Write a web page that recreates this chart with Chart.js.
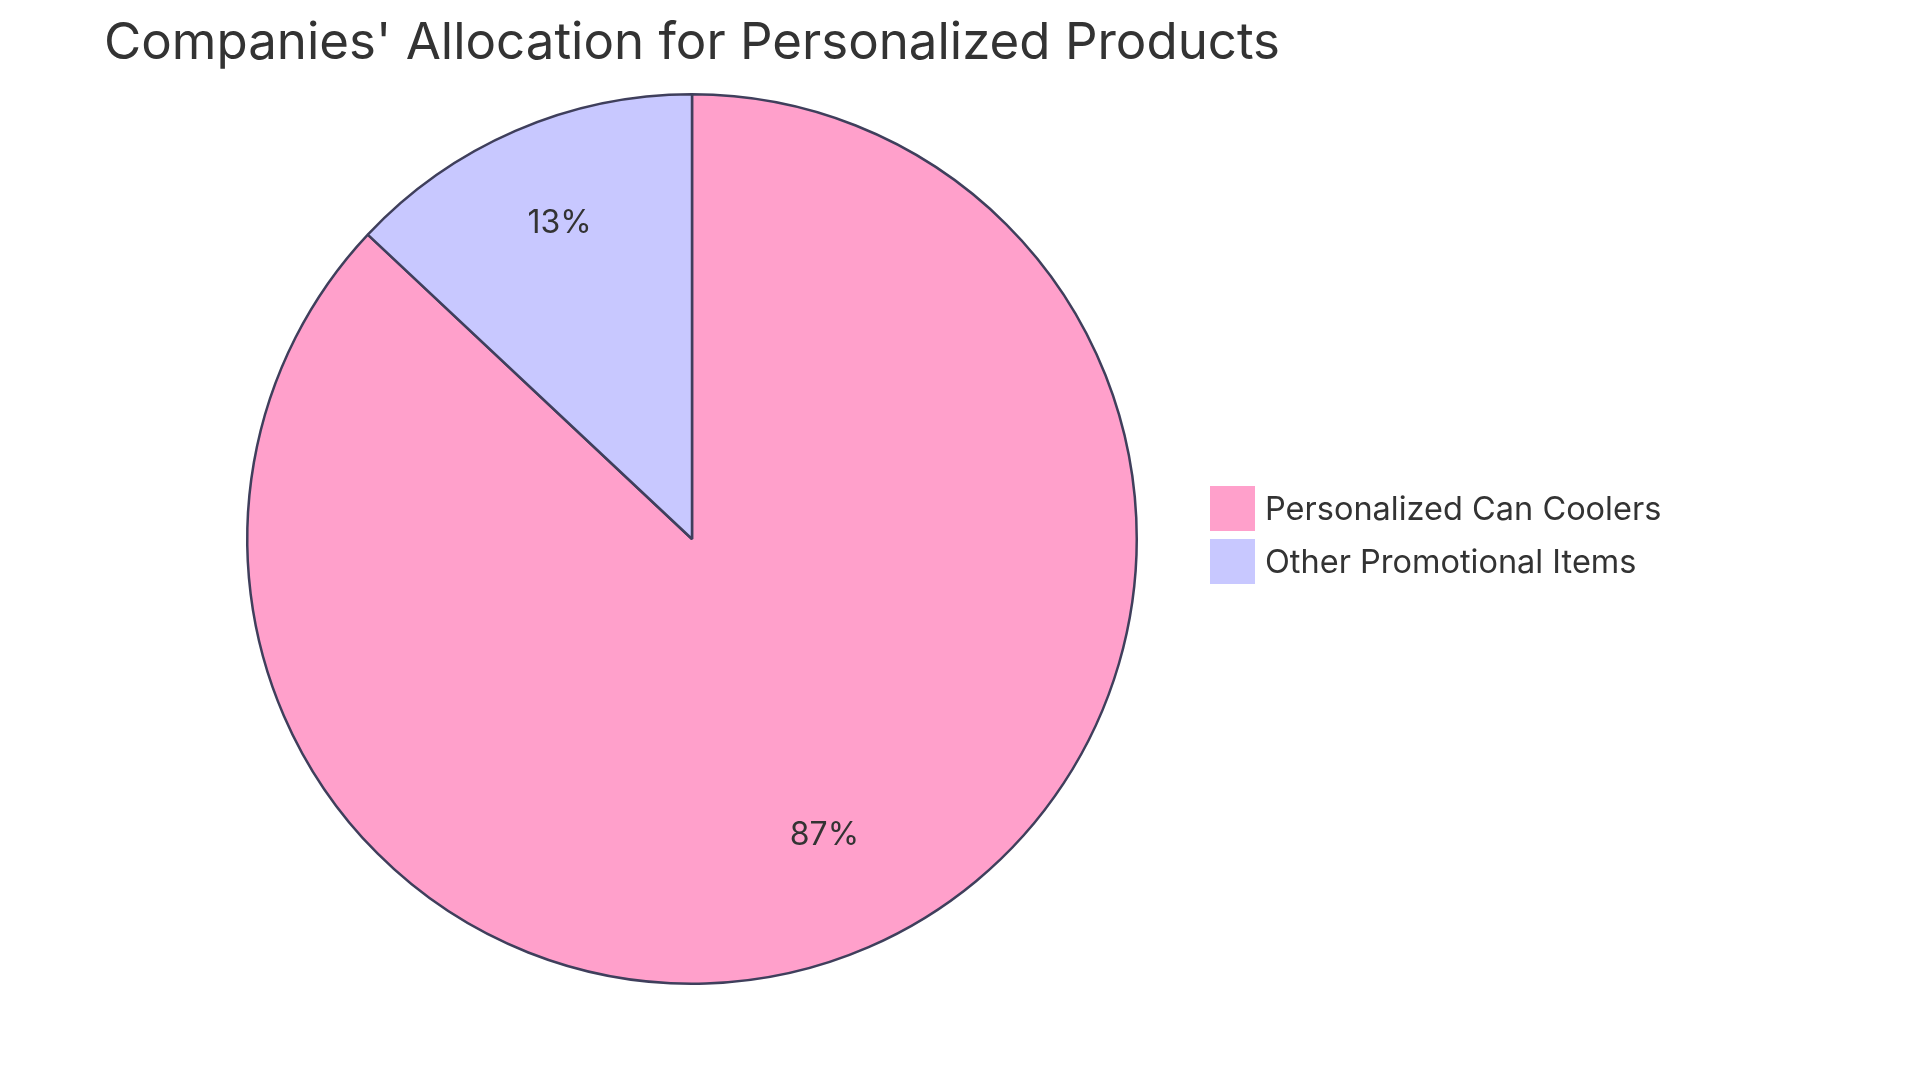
<!DOCTYPE html>
<html>
<head>
<meta charset="utf-8">
<script src="https://cdn.jsdelivr.net/npm/chart.js@4.4.1/dist/chart.umd.min.js"></script>
<style>
    html, body { margin: 0; padding: 0; background: #fff; }
    #wrap { position: relative; width: 1920px; height: 1080px; font-family: Inter, "Noto Sans", sans-serif; color: #333; }
    #title { position: absolute; left: 104px; top: 11px; font-size: 51px; line-height: 60px; white-space: nowrap; }
    #legend { position: absolute; left: 1210px; top: 486px; }
    .row { display: flex; align-items: center; height: 45px; margin-bottom: 8px; font-size: 32.5px; }
    .box { width: 45px; height: 45px; margin-right: 10px; box-sizing: border-box; }
    canvas { position: absolute; left: 0; top: 0; }
</style>
</head>
<body>
<div id="wrap">
    <canvas id="myChart" width="1920" height="1080"></canvas>
    <div id="title"></div>
    <div id="legend"></div>
</div>
<script>
const chartTitle = "Companies' Allocation for Personalized Products";
const categories = ["Personalized Can Coolers", "Other Promotional Items"];
const values = [87, 13];
const sliceColors = ["#ffa0cb", "#c8c8ff"];

document.getElementById('title').textContent = chartTitle;

// legend in html
const legendEl = document.getElementById('legend');
categories.forEach((name, i) => {
    const row = document.createElement('div');
    row.className = 'row';
    const box = document.createElement('div');
    box.className = 'box';
    box.style.background = sliceColors[i];
    const txt = document.createElement('span');
    txt.textContent = name;
    row.appendChild(box);
    row.appendChild(txt);
    legendEl.appendChild(row);
});

// percent labels at 0.75 of the radius, baseline on the centroid
const pctLabels = {
    id: 'pctLabels',
    afterDatasetsDraw(chart) {
        const ctx = chart.ctx;
        const meta = chart.getDatasetMeta(0);
        const total = values.reduce((a, b) => a + b, 0);
        ctx.save();
        ctx.font = '32px Inter, "Noto Sans", sans-serif';
        ctx.fillStyle = '#333';
        ctx.textAlign = 'center';
        ctx.textBaseline = 'alphabetic';
        meta.data.forEach((arc, i) => {
            const { x, y, startAngle, endAngle, outerRadius } = arc.getProps(['x', 'y', 'startAngle', 'endAngle', 'outerRadius'], true);
            const mid = (startAngle + endAngle) / 2;
            const r = outerRadius * 0.75;
            const pct = Math.round(values[i] / total * 100) + '%';
            ctx.fillText(pct, x + Math.cos(mid) * r, y + Math.sin(mid) * r);
        });
        ctx.restore();
    }
};

const ctx = document.getElementById('myChart').getContext('2d');
new Chart(ctx, {
    type: 'pie',
    data: {
        labels: categories,
        datasets: [{
            data: values,
            backgroundColor: sliceColors,
            borderColor: '#3f3f5c',
            borderWidth: 2.5,
        }]
    },
    options: {
        responsive: false,
        animation: false,
        layout: { padding: { left: 246, right: 782, top: 93, bottom: 95 } },
        plugins: {
            legend: { display: false },
            tooltip: { enabled: false },
            title: { display: false }
        }
    },
    plugins: [pctLabels]
});
</script>
</body>
</html>
